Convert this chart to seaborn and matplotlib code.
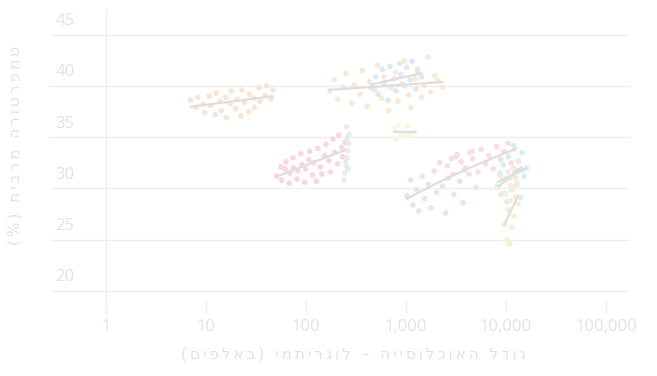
import matplotlib
matplotlib.use("Agg")
import matplotlib.pyplot as plt
import matplotlib.transforms as mtransforms
import numpy as np
import pandas as pd
import seaborn as sns

# ---- data: population (thousands) and max temperature per city group ----
g1_pop = [7.0, 7.9, 8.3, 9.4, 9.7, 10.8, 11.1, 12.4, 12.6, 13.9, 14.2, 15.8, 16.0, 17.4, 17.9,
          19.8, 20.3, 22.4, 22.9, 24.1, 26.6, 27.1, 29.8, 30.5, 33.9, 34.7, 38.8, 40.2, 44.9, 46.5]
g1_tmp = [38.6, 37.9, 38.9, 38.2, 37.4, 39.0, 38.1, 37.2, 39.3, 38.5, 37.6, 38.9, 36.9, 38.3, 39.5,
          37.8, 38.7, 37.1, 39.6, 38.4, 37.5, 39.2, 38.8, 37.9, 39.8, 38.5, 39.1, 40.0, 38.7, 39.6]

g2_pop = [51, 56, 57, 62, 63, 68, 69, 74, 75, 81, 83, 89, 91, 97, 99, 106, 109, 116, 119, 127,
          131, 139, 144, 153, 158, 169, 175, 186, 193, 207, 212, 228, 232, 247]
g2_tmp = [31.2, 32.1, 30.8, 31.9, 32.6, 30.5, 31.5, 33.0, 32.0, 30.9, 31.7, 33.4, 32.3, 30.6, 31.9,
          32.8, 33.6, 31.3, 32.5, 30.7, 33.9, 32.1, 31.4, 33.2, 34.3, 32.7, 31.6, 34.8, 33.5, 32.4,
          35.2, 34.0, 33.1, 34.5]

g3_pop = [240, 246, 252, 258, 262, 266, 270, 255, 249, 264, 258]
g3_tmp = [30.8, 31.5, 32.2, 33.0, 33.7, 34.4, 35.3, 36.0, 32.6, 31.9, 34.9]

g4_pop = [172, 193, 206, 234, 251, 285, 305, 346, 364, 407, 433, 487, 514, 568, 602, 668, 712,
          789, 831, 912, 958, 1062, 1118, 1235, 1305, 1436, 1512, 1668, 1761, 1945, 2080, 2330]
g4_tmp = [39.5, 40.6, 38.7, 39.9, 41.2, 38.3, 40.1, 39.2, 41.5, 38.0, 40.4, 39.6, 42.0, 38.8, 40.9,
          37.6, 39.8, 41.3, 38.5, 40.2, 42.4, 39.1, 37.9, 40.7, 41.6, 38.9, 40.0, 42.8, 39.4, 41.0,
          40.5, 39.9]

g5_pop = [450, 495, 524, 578, 604, 658, 693, 758, 792, 861, 889, 972, 1008, 1102, 1149, 1253,
          1309, 1432]
g5_tmp = [39.8, 40.9, 39.2, 41.6, 40.3, 38.6, 41.9, 40.7, 39.5, 42.2, 41.1, 40.0, 41.8, 40.6, 42.4,
          39.7, 41.4, 40.9]

g6_pop = [760, 800, 850, 900, 960, 1020, 1090, 1170, 1230]
g6_tmp = [35.9, 34.8, 36.2, 35.3, 35.0, 36.1, 35.2, 35.5, 35.6]

g7_pop = [1020, 1110, 1170, 1270, 1340, 1460, 1540, 1670, 1770, 1910, 2020, 2180, 2310, 2490,
          2640, 2840, 3010, 3240, 3440, 3710, 3940, 4260, 4590, 5010]
g7_tmp = [29.3, 30.8, 28.4, 29.9, 27.8, 31.2, 29.0, 30.4, 28.1, 31.7, 29.6, 32.5, 30.2, 27.6, 31.0,
          32.9, 29.4, 33.3, 30.7, 28.6, 32.0, 31.4, 33.6, 30.1]

g8_pop = [2600, 2950, 3150, 3550, 3850, 4350, 4650, 5250, 5650, 6250, 6750, 7450, 8050, 8850,
          9550, 10450, 11250, 12250]
g8_tmp = [32.2, 31.4, 33.1, 32.6, 31.8, 33.5, 32.9, 31.6, 33.8, 32.4, 33.2, 31.9, 34.1, 32.8, 33.6,
          34.4, 32.5, 33.9]

g9_pop = [8200, 8650, 8950, 9450, 9750, 10250, 10550, 11050, 11350, 11850, 12250, 12850, 13250,
          13950, 14450, 15250, 15950]
g9_tmp = [30.2, 31.5, 29.4, 32.3, 30.8, 28.7, 33.1, 31.0, 29.9, 34.2, 31.8, 30.4, 32.7, 29.1, 33.5,
          31.2, 32.0]

g10_pop = [8300, 8800, 9300, 9900, 10500, 11100, 11800, 12500, 13400, 14300]
g10_tmp = [30.1, 31.2, 29.5, 30.9, 31.6, 30.3, 32.0, 31.1, 32.6, 31.8]

g11_pop = [9600, 9900, 10200, 10500, 10800, 11100, 11400, 11700, 12000, 12400, 12800, 13200]
g11_tmp = [26.5, 29.5, 25.0, 27.9, 24.6, 28.8, 26.2, 30.1, 27.3, 29.2, 30.6, 28.5]

x_ticks = [1, 10, 100, 1000, 10000, 100000]
x_tick_labels = ["1", "10", "100", "1,000", "10,000", "100,000"]
y_ticks = [20, 25, 30, 35, 40, 45]

x_title = "גודל האוכלוסייה – לוגריתמי (באלפים)"
y_title = "טמפרטורה מרבית (%)"

# group id -> (pop, temp, point colour, draw trend line)
groups = {
    "g1": (g1_pop, g1_tmp, "#fae4d3", True),
    "g2": (g2_pop, g2_tmp, "#f9d7db", True),
    "g3": (g3_pop, g3_tmp, "#ebebeb", False),
    "g4": (g4_pop, g4_tmp, "#fbe7d6", True),
    "g5": (g5_pop, g5_tmp, "#dde9f5", True),
    "g6": (g6_pop, g6_tmp, "#fcf5e2", True),
    "g7": (g7_pop, g7_tmp, "#eee0f1", False),
    "g8": (g8_pop, g8_tmp, "#fadee2", False),
    "g9": (g9_pop, g9_tmp, "#d6eff5", True),
    "g10": (g10_pop, g10_tmp, "#f6ebde", True),
    "g11": (g11_pop, g11_tmp, "#fbebd7", True),
}

frames = []
for name, (p, t, c, _) in groups.items():
    frames.append(pd.DataFrame({"pop": p, "temp": t, "group": name}))
df = pd.concat(frames, ignore_index=True)
df["logpop"] = np.log10(df["pop"])
palette = {k: v[2] for k, v in groups.items()}


def rtl(s, gap="\u2009"):
    """Put right-to-left text into visual order, with a little letter spacing."""
    s = s[::-1].translate(str.maketrans("()", ")("))
    return gap.join(s)


sns.set_theme(style="white")
plt.rcParams["font.family"] = ["Open Sans", "DejaVu Sans"]

fig = plt.figure(figsize=(6.57, 3.76), dpi=100)
ax = fig.add_axes([50 / 657, 76 / 376, 580 / 657, 290 / 376])

line_col = "#dedede"
text_col = "#e2e2e2"
grid_col = "#efefef"

# horizontal grid lines
for y in y_ticks:
    ax.axhline(y, color=grid_col, lw=1.0, zorder=0)
ax.axvline(0, ymin=-0.045, ymax=1.0, color=grid_col, lw=1.0, zorder=0, clip_on=False)

sns.scatterplot(data=df, x="logpop", y="temp", hue="group", palette=palette,
                s=16, linewidth=0, legend=False, ax=ax, zorder=2)

# per-group linear trends
for name, (p, t, c, show) in groups.items():
    if not show:
        continue
    sub = df[df["group"] == name]
    sns.regplot(data=sub, x="logpop", y="temp", scatter=False, ci=None,
                line_kws={"color": line_col, "lw": 1.6, "zorder": 3}, ax=ax)

# curved trend across the two mid-size groups
mid = df[df["group"].isin(["g7", "g8"])]
sns.regplot(data=mid, x="logpop", y="temp", scatter=False, ci=None, order=2,
            line_kws={"color": line_col, "lw": 1.6, "zorder": 3}, ax=ax)

ax.set_xlim(-0.56, 5.24)
ax.set_ylim(19.12, 47.4)

ax.set_xticks(np.log10(x_ticks))
ax.set_xticklabels(x_tick_labels, fontsize=12, color=text_col)
ax.tick_params(axis="x", length=9.5, width=1.0, color=grid_col, pad=4, bottom=True)
ax.set_yticks([])

blend = mtransforms.blended_transform_factory(ax.transAxes, ax.transData)
for y in y_ticks:
    ax.text(0.009, y + 0.55, str(y), transform=blend, ha="left", va="bottom",
            fontsize=12, color=text_col)

for sp in ax.spines.values():
    sp.set_visible(False)

ax.set_xlabel(rtl(x_title), fontsize=11, color=text_col, family=["DejaVu Sans"])
ax.set_ylabel(rtl(y_title), fontsize=11, color=text_col, family=["DejaVu Sans"])
ax.xaxis.set_label_coords(0.524, -0.16)
ax.yaxis.set_label_coords(-0.048, 0.534)

fig.savefig("out.png", dpi=100)
